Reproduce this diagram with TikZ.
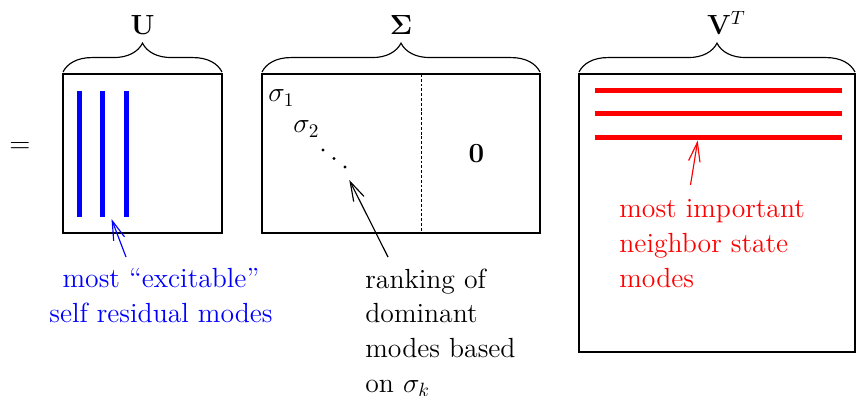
\documentclass[tikz,border=0pt]{standalone}
\usepackage{amsmath,amssymb}
\usepackage{tikz}
\usetikzlibrary{arrows.meta,decorations.pathreplacing}
\tikzset{
  matbox/.style={line width=1pt},
  topbrace/.style={decorate,decoration={brace,amplitude=15pt},line width=0.6pt},
  modeline/.style={line width=2.6pt},
  callout/.style={line width=0.6pt,-{Straight Barb[length=10pt,width=6pt]}},
  note/.style={inner sep=0pt,anchor=base west,align=left},
}

\begin{document}
\begin{tikzpicture}[x=0.52pt,y=-0.52pt,font=\Large]
  \useasboundingbox (0,0) rectangle (856,396);
  \node (eq) at (20,148) {$=$};
  % U
  \draw[matbox] (63,74) rectangle (222,233);
  \draw[topbrace] (63,72) -- (222,72);
  \node[anchor=base] (uLbl) at (142.5,35) {$\mathbf{U}$};
  \foreach \px in {79,102.5,126.5}
    \draw[modeline,blue] (\px,91) -- (\px,217);
  % Sigma
  \draw[matbox] (262,74) rectangle (540,233);
  \draw[line width=0.5pt,dash pattern=on 1.5pt off 1pt] (421,74) -- (421,233);
  \draw[topbrace] (262,72) -- (540,72);
  \node[anchor=base] (sLbl) at (401,35) {$\boldsymbol{\Sigma}$};
  \node[note] (sig1) at (268,102) {$\sigma_1$};
  \node[note] (sig2) at (293,133) {$\sigma_2$};
  \foreach \px/\py in {323/150,334/158.5,345/167}
    \fill (\px,\py) circle (0.8pt);
  \node[anchor=base] (zero) at (476.5,163) {$\mathbf{0}$};
  % V^T
  \draw[matbox] (579,74) rectangle (855,352);
  \draw[topbrace] (579,72) -- (855,72);
  \node[anchor=base] (vLbl) at (719,35) {$\mathbf{V}\rlap{$^T$}$};
  \foreach \py in {90.5,114,138}
    \draw[modeline,red] (595,\py) -- (842,\py);
  % notes (base = last line)
  \node[blue,inner sep=0pt,anchor=base,align=center] (uNote) at (161,322)
    {most ``excitable''\\self residual modes};
  \node[note] (sNote) at (365,392) {ranking of\\dominant\\modes based\\on $\sigma_k$};
  \node[note,red] (vNote) at (619,287) {most important\\neighbor state\\modes};
  \coordinate (uTail) at (126,257);
  \coordinate (uTip) at (111.5,219);
  \coordinate (sTail) at (388,257);
  \coordinate (sTip) at (349.3,180);
  \coordinate (vTail) at (690.5,185);
  \coordinate (vTip) at (697.7,140.5);
  \draw[callout,blue] (uTail) -- (uTip);
  \draw[callout] (sTail) -- (sTip);
  \draw[callout,red] (vTail) -- (vTip);
\end{tikzpicture}
\end{document}
